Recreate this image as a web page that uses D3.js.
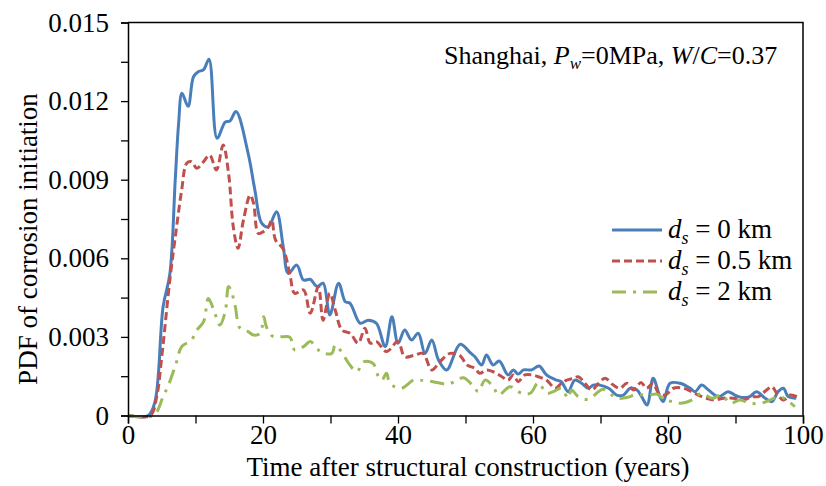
<!DOCTYPE html>
<html>
<head>
<meta charset="utf-8">
<script src="https://cdn.jsdelivr.net/npm/d3@7"></script>
<style>
  html, body { margin: 0; padding: 0; background: #fff; }
  svg { display: block; font-family: "Liberation Serif", "Times New Roman", serif; }
</style>
</head>
<body>
<svg id="chart" width="826" height="486"></svg>
<script>
// Time after construction (years) and PDF values, one pair of arrays per distance from the sea
const years0 = [0, 3, 4, 5.2, 6.2, 7, 7.5, 8, 8.9, 9.7, 10.4, 11.2, 12, 13.2, 14.4, 15.1, 16, 17.8, 18.8, 19.8, 20.8, 22, 23, 23.75, 25, 26, 27, 28, 28.9, 29.9, 31.2, 32.2, 32.9, 34.4, 35.6, 36.8, 38.1, 39.1, 40, 41, 42, 43, 44, 45, 46, 47.2, 49.2, 50.7, 51.4, 52.4, 53.1, 54.1, 55, 56.3, 57.1, 57.8, 58.6, 59.8, 60.9, 62, 63.5, 64.2, 65.2, 66.2, 67.2, 68.2, 68.9, 69.9, 71.2, 72.4, 73.4, 74.4, 75.4, 76.1, 76.9, 77.8, 78.8, 79.3, 80.3, 81.8, 83.3, 84, 85, 86, 87.5, 88.9, 89.9, 90.9, 92.1, 93.1, 94.4, 95.4, 96.3, 97.1, 97.8, 99];
const pdf0 = [0, 0, 0.00053, 0.00415, 0.0054, 0.009, 0.01115, 0.0123, 0.0118, 0.01293, 0.01312, 0.0132, 0.0136, 0.01058, 0.0112, 0.01124, 0.0116, 0.0100, 0.0086, 0.00734, 0.0072, 0.00778, 0.00644, 0.00543, 0.00574, 0.00517, 0.0052, 0.00492, 0.00505, 0.00384, 0.00505, 0.00434, 0.00428, 0.00352, 0.00364, 0.00352, 0.00263, 0.00377, 0.00276, 0.00326, 0.00288, 0.00314, 0.00237, 0.00288, 0.00212, 0.00174, 0.00272, 0.0024, 0.00224, 0.00193, 0.00231, 0.00193, 0.00208, 0.00155, 0.00174, 0.00158, 0.00174, 0.00174, 0.00189, 0.00155, 0.00135, 0.00129, 0.00091, 0.00135, 0.00123, 0.00104, 0.00116, 0.00116, 0.00104, 0.00078, 0.00078, 0.00104, 0.00097, 0.00072, 0.0004, 0.00142, 0.00072, 0.00053, 0.00123, 0.00123, 0.00104, 0.00091, 0.00116, 0.00097, 0.00072, 0.00091, 0.00078, 0.00069, 0.00072, 0.00091, 0.00066, 0.00053, 0.00091, 0.00104, 0.00072, 0.00066];

const years05 = [0, 3.3, 4.25, 5, 6.2, 7.2, 7.95, 8.7, 9.4, 10.2, 11.2, 12.1, 13.1, 14.1, 14.9, 15.6, 16.3, 17.1, 18.1, 18.6, 19.3, 20, 20.8, 21.3, 21.85, 23, 24, 24.7, 26, 27, 28.2, 28.9, 29.9, 30.7, 31.7, 32.9, 34.1, 35.1, 35.9, 36.8, 38.3, 40, 41, 42.5, 43.7, 45, 46.2, 47.7, 49.2, 50.2, 51.4, 52.1, 53.1, 54.1, 55.4, 56.3, 57.1, 57.8, 58.8, 59.8, 60.8, 62, 63.3, 64.2, 65, 66, 66.7, 67.7, 68.7, 69.7, 70.7, 71.9, 72.9, 73.9, 74.9, 76, 76.8, 77.8, 78.6, 79.6, 80.8, 82.3, 83.5, 84.5, 85.7, 87, 88.2, 89.7, 91.2, 92.4, 93.4, 94.6, 95.4, 96.1, 97.1, 98.1, 99.1];
const pdf05 = [0, 0, 0.00072, 0.00224, 0.00517, 0.0072, 0.0086, 0.00963, 0.00969, 0.00944, 0.00969, 0.00994, 0.00937, 0.01032, 0.00924, 0.0072, 0.00638, 0.00746, 0.00841, 0.0081, 0.00695, 0.00701, 0.0072, 0.00746, 0.0067, 0.00635, 0.00536, 0.00466, 0.00479, 0.0039, 0.00492, 0.00364, 0.00466, 0.00403, 0.00326, 0.00314, 0.00276, 0.00333, 0.00276, 0.00282, 0.00244, 0.00282, 0.00224, 0.00231, 0.00237, 0.00174, 0.00205, 0.00237, 0.00228, 0.00193, 0.0018, 0.00161, 0.00174, 0.00167, 0.00148, 0.00135, 0.00155, 0.00129, 0.00155, 0.00155, 0.00148, 0.00135, 0.00104, 0.00123, 0.00135, 0.00142, 0.00148, 0.00123, 0.00097, 0.00123, 0.00142, 0.00116, 0.00104, 0.00123, 0.00097, 0.00126, 0.00104, 0.00123, 0.00085, 0.00078, 0.00104, 0.00104, 0.00091, 0.00078, 0.00066, 0.00059, 0.00066, 0.00066, 0.00059, 0.00072, 0.00072, 0.00097, 0.0011, 0.00085, 0.00059, 0.00078, 0.00072];

const years2 = [0, 3.75, 5.2, 6.1, 7.2, 7.95, 9.4, 10.2, 11.2, 11.9, 12.7, 13.6, 14.4, 14.9, 15.4, 15.9, 16.6, 17.8, 18.6, 19.6, 20.1, 20.5, 21.5, 23, 24, 24.7, 26, 27, 28, 28.7, 30.2, 30.7, 31.7, 32.7, 33.9, 34.9, 36.3, 37.1, 37.6, 38.3, 38.8, 40.5, 42.3, 43.3, 45.2, 47.2, 48.2, 49.7, 51.2, 51.9, 52.9, 54.1, 54.9, 56.6, 58.3, 59.6, 60.8, 62, 63, 64.2, 65.2, 65.7, 66.7, 68.2, 70.4, 72.4, 73.9, 75.1, 77.3, 78.3, 79.6, 80.8, 81.8, 83.5, 85, 86.5, 88, 89.2, 90.7, 92.1, 93.8, 95.1, 96.6, 97.6, 98.8];
const pdf2 = [0, 0, 0.00072, 0.00123, 0.00205, 0.00263, 0.00288, 0.00326, 0.00358, 0.00447, 0.00403, 0.00345, 0.00396, 0.00492, 0.00466, 0.00415, 0.00333, 0.0032, 0.00307, 0.00314, 0.00377, 0.00339, 0.00301, 0.00301, 0.00298, 0.0025, 0.00263, 0.00282, 0.00256, 0.0024, 0.00237, 0.00269, 0.0024, 0.00199, 0.00167, 0.00205, 0.00199, 0.00148, 0.00135, 0.00161, 0.00123, 0.00104, 0.00135, 0.00135, 0.00129, 0.0012, 0.00127, 0.00144, 0.0011, 0.00091, 0.00135, 0.0011, 0.00078, 0.0011, 0.00085, 0.00085, 0.00125, 0.00085, 0.00091, 0.00104, 0.00066, 0.00097, 0.00072, 0.00062, 0.001, 0.00066, 0.00069, 0.00078, 0.00078, 0.00082, 0.00059, 0.00053, 0.00047, 0.00059, 0.00085, 0.00066, 0.00078, 0.00047, 0.00059, 0.00047, 0.00047, 0.00059, 0.00072, 0.00059, 0.00034];

const seriesNames = ["0", "0.5", "2"];
const xTicks = [0, 20, 40, 60, 80, 100];
const yTicks = [0, 0.003, 0.006, 0.009, 0.012, 0.015];
const yTickLabels = ["0", "0.003", "0.006", "0.009", "0.012", "0.015"];

const series = [
  { name: seriesNames[0], t: years0, v: pdf0, color: "#4a7ebb", dash: null },
  { name: seriesNames[1], t: years05, v: pdf05, color: "#c0504d", dash: "8,4" },
  { name: seriesNames[2], t: years2, v: pdf2, color: "#9bbb59", dash: "14,7,3,7" }
];

const svg = d3.select("#chart");
const plotLeft = 128, plotRight = 803, plotTop = 22.5, plotBottom = 415.5;
const fontPx = 27;

const x = d3.scaleLinear().domain([0, 100]).range([plotLeft, plotRight]);
const y = d3.scaleLinear().domain([0, 0.015]).range([plotBottom, plotTop]);

// plot frame (top and right edges)
svg.append("path")
  .attr("d", `M${plotLeft},${plotTop}H${plotRight}V${plotBottom}`)
  .attr("fill", "none").attr("stroke", "#000").attr("stroke-width", 1.5);

// series
const line = d3.line()
  .x(d => x(d[0])).y(d => y(d[1]))
  .curve(d3.curveCatmullRom.alpha(0.5));

const plot = svg.append("g");
series.forEach(s => {
  const pts = s.t.map((t, i) => [t, s.v[i]]);
  plot.append("path")
    .datum(pts)
    .attr("d", line)
    .attr("fill", "none")
    .attr("stroke", s.color)
    .attr("stroke-width", 3)
    .attr("stroke-linejoin", "round")
    .attr("stroke-dasharray", s.dash);
});

// axes
const yAxis = d3.axisLeft(y)
  .tickValues(d3.range(0, 0.01501, 0.0015))
  .tickSize(7).tickPadding(12)
  .tickFormat(d => {
    const k = yTicks.findIndex(v => Math.abs(v - d) < 1e-9);
    return k >= 0 ? yTickLabels[k] : "";
  });
const gy = svg.append("g").attr("transform", `translate(${plotLeft},0)`).call(yAxis);

const xAxis = d3.axisBottom(x)
  .tickValues(d3.range(0, 101, 10))
  .tickSize(8).tickPadding(1)
  .tickFormat(d => xTicks.includes(d) ? d : "");
const gx = svg.append("g").attr("transform", `translate(0,${plotBottom})`).call(xAxis);

[gx, gy].forEach(g => {
  g.select(".domain").attr("stroke", "#000").attr("stroke-width", 1.5);
  g.selectAll(".tick line").attr("stroke", "#000").attr("stroke-width", 1.3);
  g.selectAll(".tick text").attr("fill", "#000")
    .style("font-family", '"Liberation Serif", serif').style("font-size", fontPx + "px");
});

// axis titles
svg.append("text")
  .attr("x", 468).attr("y", 476)
  .attr("text-anchor", "middle")
  .style("font-size", fontPx + "px")
  .text("Time after structural construction (years)");

svg.append("text")
  .attr("transform", "translate(37,239) rotate(-90)")
  .attr("text-anchor", "middle")
  .style("font-size", fontPx + "px")
  .text("PDF of corrosion initiation");

// case annotation
const note = svg.append("text").attr("x", 444).attr("y", 64).style("font-size", "26px");
note.append("tspan").text("Shanghai, ");
note.append("tspan").style("font-style", "italic").text("P");
note.append("tspan").style("font-style", "italic").style("font-size", "17px").attr("dy", 5).text("w");
note.append("tspan").attr("dy", -5).text("=0MPa, ");
note.append("tspan").style("font-style", "italic").text("W");
note.append("tspan").text("/");
note.append("tspan").style("font-style", "italic").text("C");
note.append("tspan").text("=0.37");

// legend
const legY = [230, 261, 292];
series.forEach((s, i) => {
  const g = svg.append("g");
  g.append("line")
    .attr("x1", 612).attr("x2", 662)
    .attr("y1", legY[i]).attr("y2", legY[i])
    .attr("stroke", s.color).attr("stroke-width", 3)
    .attr("stroke-dasharray", s.dash);
  const t = g.append("text").attr("x", 668).attr("y", legY[i] + 8).style("font-size", fontPx + "px");
  t.append("tspan").style("font-style", "italic").text("d");
  t.append("tspan").style("font-style", "italic").style("font-size", "18px").attr("dy", 6).text("s");
  t.append("tspan").attr("dy", -6).text(` = ${s.name} km`);
});
</script>
</body>
</html>
